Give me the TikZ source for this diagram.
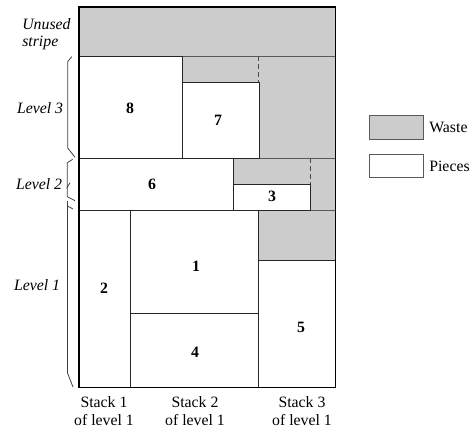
\documentclass[tikz,border=0pt]{standalone}
\usepackage{fontspec}
\setmainfont{Liberation Serif}
\definecolor{wastegray}{HTML}{CCCCCC}

\begin{document}
\begin{tikzpicture}[
  x=0.633pt, y=-0.633pt,
  waste/.style={fill=wastegray, draw=gray!70!black, line width=0.6pt},
  piece/.style={fill=white, draw=black!85, line width=0.6pt},
  level/.style={draw=gray!70!black, line width=0.6pt},
  cut/.style={draw=gray!60!black, dash pattern=on 3pt off 2pt, line width=0.6pt},
  num/.style={font=\fontsize{10}{12}\selectfont\bfseries},
  lvl/.style={font=\fontsize{10}{12}\selectfont\itshape, anchor=east, inner sep=1pt},
  stack/.style={font=\fontsize{10}{11}\selectfont, align=center, inner sep=1pt},
  brace/.style={draw=black!75, line width=0.5pt}
]
\useasboundingbox (0,0) rectangle (474,432);

% Strip (waste everywhere first)
\fill[wastegray] (79,7) rectangle (335.7,387.7);
\draw[level] (79,56)  -- (335.7,56);
\draw[level] (79,158) -- (335.7,158);
\draw[level] (79,210) -- (335.7,210);

% Pieces
\draw[piece] (79,56)    rectangle (182,158);    % 8
\draw[piece] (182,82)   rectangle (259,158);    % 7
\draw[piece] (79,158)   rectangle (233,210);    % 6
\draw[piece] (233,184)  rectangle (310,210);    % 3
\draw[piece] (79,210)   rectangle (130.7,387.7); % 2
\draw[piece] (130.7,210) rectangle (258.7,313);  % 1
\draw[piece] (130.7,313) rectangle (258.7,387.7); % 4
\draw[piece] (258.7,260) rectangle (335.7,387.7); % 5

% Cuts
\draw[cut] (258.5,56) -- (258.5,82);
\draw[cut] (310,158) -- (310,184);

\draw[black, line width=0.7pt] (79,7) rectangle (335.7,387.7);

% Piece numbers
\node[num] at (130,108) (n8) {8};
\node[num] at (218,120) (n7) {7};
\node[num] at (152,184) (n6) {6};
\node[num] at (272,196) (n3) {3};
\node[num] at (104,288) (n2) {2};
\node[num] at (196,266) (n1) {1};
\node[num] at (195,352) (n4) {4};
\node[num] at (301,327) (n5) {5};

% Levels
\node[font=\fontsize{10}{11}\selectfont\itshape, align=left, anchor=west, inner sep=0pt]
  at (22,34) (unused) {Unused\\stripe};
\node[lvl] at (65,108) (lev3) {Level 3};
\node[lvl] at (64,184) (lev2) {Level 2};
\node[lvl] at (62,285) (lev1) {Level 1};

\draw[brace] (71.7,56.7) -- (67.7,61.7) -- (67.7,148) -- (75,157.3);
\draw[brace] (72.7,159.3) -- (67.3,162.7) -- (67.3,196.7) -- (75,200.7);
\draw[brace] (66.7,188.3) -- (70,182.7);
\draw[brace] (67.5,201) -- (67.5,373) -- (73,387);
\draw[brace] (67.5,206) -- (73,209);

% Stacks
\node[stack] at (104,411) (st1) {Stack 1\\of level 1};
\node[stack] at (195,411) (st2) {Stack 2\\of level 1};
\node[stack] at (302,411) (st3) {Stack 3\\of level 1};

% Legend
\draw[waste] (369,115) rectangle (423,139);
\draw[piece, draw=gray!70!black] (369,154) rectangle (423,177);
\node[anchor=west, inner sep=0pt, font=\fontsize{10}{12}\selectfont] at (429,127) (wl) {Waste};
\node[anchor=west, inner sep=0pt, font=\fontsize{10}{12}\selectfont] at (429,166) (pl) {Pieces};

\end{tikzpicture}
\end{document}
